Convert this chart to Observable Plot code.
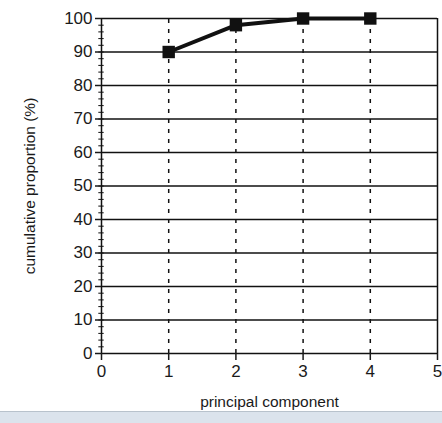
<!DOCTYPE html>
<html>
<head>
<meta charset="utf-8">
<script src="https://cdn.jsdelivr.net/npm/d3@7"></script>
<script src="https://cdn.jsdelivr.net/npm/@observablehq/plot@0.6"></script>
<style>
  html, body { margin: 0; padding: 0; background: #fff; }
  #bar { position: absolute; left: 0; top: 411px; width: 442px; height: 12px; background: #dbe3ec; border-top: 1px solid #b8c2cc; }
</style>
</head>
<body>
<div id="chart"></div>
<div id="bar"></div>
<script>
const components = [1, 2, 3, 4];
const cumulative = [90, 98, 100, 100];
const xTicks = [0, 1, 2, 3, 4, 5];
const yTicks = [0, 10, 20, 30, 40, 50, 60, 70, 80, 90, 100];
const yMinor = d3.range(0, 101, 2);

const data = components.map((c, i) => ({pc: c, cum: cumulative[i]}));

const chart = Plot.plot({
  width: 442,
  height: 410,
  marginLeft: 101,
  marginRight: 5,
  marginTop: 18,
  marginBottom: 57,
  style: {fontFamily: "Liberation Sans, Arial, sans-serif", color: "#1a1a1a", background: "#fff"},
  x: {domain: [0, 5]},
  y: {domain: [0, 100]},
  marks: [
    Plot.ruleY(yTicks, {x1: 0, x2: 5, stroke: "#111", strokeWidth: 1.5}),
    Plot.ruleX(components, {y1: 0, y2: 100, stroke: "#111", strokeWidth: 1.5, strokeDasharray: "4,6"}),
    Plot.ruleX([0, 5], {y1: 0, y2: 100, stroke: "#111", strokeWidth: 1.5}),
    Plot.ruleY(yMinor, {x1: -0.04, x2: 0.04, stroke: "#111", strokeWidth: 1}),
    Plot.axisY(yTicks, {tickSize: 6, tickPadding: 3, fontSize: 17, strokeWidth: 1.5,
      label: "cumulative proportion (%)", labelAnchor: "center", labelArrow: "none", labelOffset: 78}),
    Plot.axisX(xTicks, {tickSize: 7, tickPadding: 4, fontSize: 17, strokeWidth: 1.5,
      label: "principal component", labelAnchor: "center", labelArrow: "none", labelOffset: 53}),
    Plot.line(data, {x: "pc", y: "cum", stroke: "#111", strokeWidth: 4}),
    Plot.dot(data, {x: "pc", y: "cum", symbol: "square", r: 7, fill: "#111"})
  ]
});
chart.querySelectorAll("[aria-label='y-axis label'] text, [aria-label='x-axis label'] text").forEach(t => t.style.fontSize = "15.5px");
document.getElementById("chart").appendChild(chart);
</script>
</body>
</html>
